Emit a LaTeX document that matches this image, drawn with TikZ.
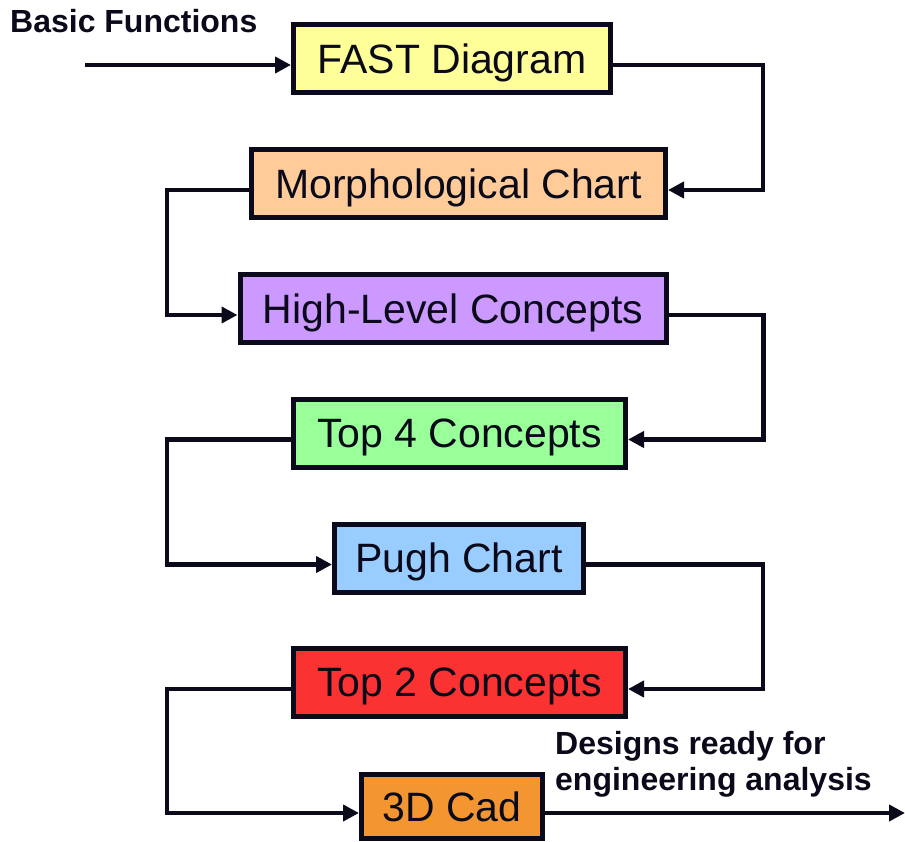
\documentclass[tikz,border=0pt]{standalone}
\usepackage{fontspec}
\setmainfont{Liberation Sans}
\usetikzlibrary{arrows.meta}
\definecolor{ink}{RGB}{10,10,26}
\definecolor{fastcol}{RGB}{255,255,153}
\definecolor{morphcol}{RGB}{255,204,153}
\definecolor{hlccol}{RGB}{204,153,255}
\definecolor{fourcol}{RGB}{153,255,153}
\definecolor{pughcol}{RGB}{153,204,255}
\definecolor{twocol}{RGB}{250,50,50}
\definecolor{cadcol}{RGB}{243,150,50}

\begin{document}
\begin{tikzpicture}[x=1pt, y=-1pt,
    box/.style={draw=ink, line width=5pt, text=ink, inner sep=0pt,
      font=\fontsize{41}{41}\selectfont, text depth=0pt, minimum height=68pt},
    link/.style={draw=ink, line width=4.6pt, -{Triangle[length=16pt,width=16pt]}},
    lbl/.style={text=ink, inner sep=0pt, font=\bfseries\fontsize{32}{36}\selectfont}]

  \useasboundingbox (0,0) rectangle (905,842);

  \newcommand\D{6.5pt}

  %% boxes
  \node[box, fill=fastcol, minimum width=317pt] (fast) at (452,58.5) {FAST Diagram};
  \node[box, fill=morphcol, minimum width=414pt] (morph) at (458.5,183.5) {Morphological Chart};
  \node[box, fill=hlccol, minimum width=426pt] (hlc) at (453,308.5) {High-Level Concepts};
  \node[box, fill=fourcol, minimum width=332pt] (topfour) at (459.5,433) {Top 4 Concepts};
  \node[box, fill=pughcol, minimum width=249pt] (pugh) at (459,558) {Pugh Chart};
  \node[box, fill=twocol, minimum width=332pt] (toptwo) at (459.5,682.5) {Top 2 Concepts};
  \node[box, fill=cadcol, minimum width=181pt, minimum height=64pt] (cad) at (452,806.5) {3D Cad};

  %% labels
  \node[lbl, anchor=base west] (basic) at (10,33) {Basic Functions};
  \node[lbl, anchor=base west, align=left] (ready) at (555,790) {Designs ready for\\engineering analysis};

  \coordinate (in) at (85,65);
  \coordinate (out) at (905,813);

  \draw[link] (in) -- ([yshift=-\D]fast.west); %% in->FAST
  \draw[link] ([yshift=-\D]fast.east) -- ++(150,0) |- ([yshift=-\D]morph.east); %% FAST->Morph
  \draw[link] ([yshift=-\D]morph.west) -- ++(-82,0) |- ([yshift=-\D]hlc.west); %% Morph->HLC
  \draw[link] ([yshift=-\D]hlc.east) -- ++(95,0) |- ([yshift=-\D]topfour.east); %% HLC->Top4
  \draw[link] ([yshift=-\D]topfour.west) -- ++(-124,0) |- ([yshift=-\D]pugh.west); %% Top4->Pugh
  \draw[link] ([yshift=-\D]pugh.east) -- ++(177,0) |- ([yshift=-\D]toptwo.east); %% Pugh->Top2
  \draw[link] ([yshift=-\D]toptwo.west) -- ++(-124,0) |- ([yshift=-\D]cad.west); %% Top2->Cad
  \draw[link] ([yshift=-\D]cad.east) -- (out); %% Cad->out

\end{tikzpicture}
\end{document}
